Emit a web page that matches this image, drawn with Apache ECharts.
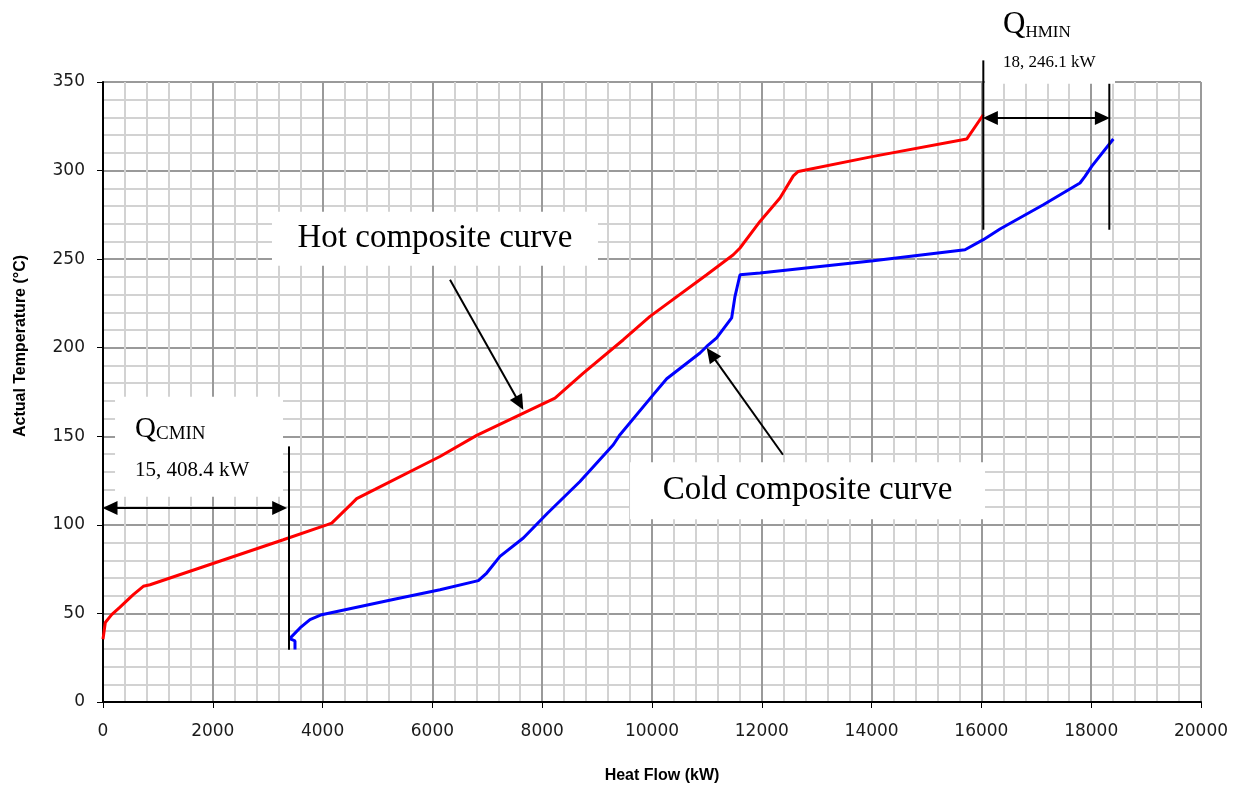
<!DOCTYPE html>
<html>
<head>
<meta charset="utf-8">
<script src="https://cdn.jsdelivr.net/npm/echarts@6/dist/echarts.min.js"></script>
<style>
  html, body { margin: 0; padding: 0; background: #fff; }
  #chart { width: 1239px; height: 797px; }
</style>
</head>
<body>
<div id="chart"></div>
<script>
// Hot composite curve: heat flow (kW) and temperature (°C)
const hotQ = [0, 42, 158, 310, 552, 734, 856, 3284, 4075, 4166, 4530, 4621, 4954, 6138, 6807,
  8233, 8749, 9478, 9964, 10996, 11481, 11603, 11967, 12331, 12574, 12665, 14031, 15732, 16035];
const hotT = [35.4, 44.9, 49.3, 53.6, 60.6, 65.3, 66.2, 91.6, 100, 101, 112, 114.8, 120, 138.6, 150.5,
  171.6, 185.7, 204.5, 217.7, 241.2, 252.5, 256.3, 271.3, 284.5, 297, 299.5, 308, 317.8, 331.5];

// Cold composite curve
const coldQ = [3497, 3497, 3400, 3588, 3770, 3983, 5349, 6138, 6837, 6989, 7231, 7656, 8100, 8688,
  9295, 9417, 10024, 10268, 10874, 10996, 11178, 11451, 11512, 11603, 11967, 13060, 14031, 15701,
  16035, 16339, 17128, 17796, 17887, 18009, 18403];
const coldT = [29.6, 34.5, 35.8, 41.8, 46.5, 49.3, 58.3, 63.4, 68.5, 72.8, 82.2, 92.6, 106.7, 124.5,
  145.2, 150.9, 173.5, 182.5, 197, 200.7, 205.5, 216.8, 229, 241.2, 242.2, 245.9, 249.1, 255.3,
  261, 267, 280.7, 293, 296.7, 302.4, 317.8];

// Minimum utility brackets (kW, °C)
const qcminLine = [[3388, 144.3], [3388, 29.5]];
const qhminLeftLine = [[16035, 362.2], [16035, 266.6]];
const qhminRightLine = [[18330, 349], [18330, 266.6]];
const qcminArrow = [[128, 109.5], [3218, 109.5]];
const qhminArrow = [[16163, 329.7], [18203, 329.7]];
// Pointers from the curve names to the curves
const hotPointer = [[6321, 238.4], [7588, 168.7]];
const coldPointer = [[12386, 139.6], [11077, 196.4]];

// Text anchors
const hotNameAt = [6047, 261.5];
const coldNameAt = [12833, 119.3];
const qcminAt = [219, 172.3];
const qhminAt = [16066, 396.5];
const qcminValue = '15, 408.4 kW';
const qhminValue = '18, 246.1 kW';

const zip = (xs, ys) => xs.map((x, i) => [x, ys[i]]);
const serif = 'Liberation Serif';

const chart = echarts.init(document.getElementById('chart'), null, { renderer: 'canvas' });

const axisCommon = {
  type: 'value',
  nameLocation: 'middle',
  nameMoveOverlap: false,
  axisLine: { show: true, onZero: false, lineStyle: { color: '#000', width: 2 } },
  axisTick: { show: true, length: 6, lineStyle: { color: '#000', width: 1 } },
  minorTick: { show: false, splitNumber: 5 },
  splitLine: { show: true, lineStyle: { color: '#9a9a9a', width: 2 } },
  minorSplitLine: { show: true, lineStyle: { color: '#d2d2d2', width: 2 } },
  axisLabel: { fontFamily: 'DejaVu Sans', fontSize: 17, color: '#1a1a1a', formatter: v => String(v) },
  nameTextStyle: { fontFamily: 'Liberation Sans', fontWeight: 'bold', fontSize: 16, color: '#000' }
};

const arrowLine = (pts, startSym, endSym) => [
  { coord: pts[0], symbol: startSym },
  { coord: pts[1], symbol: endSym }
];

chart.setOption({
  animation: false,
  backgroundColor: '#fff',
  grid: { left: 103, right: 38, top: 82, bottom: 95, containLabel: false, outerBoundsMode: 'none' },
  xAxis: Object.assign({}, axisCommon, {
    min: 0, max: 20000, interval: 2000,
    name: 'Heat Flow (kW)', nameGap: 66,
    axisLabel: Object.assign({}, axisCommon.axisLabel, { margin: 21 }),
    nameTextStyle: Object.assign({}, axisCommon.nameTextStyle, { padding: [0, 0, 0, 20] })
  }),
  yAxis: Object.assign({}, axisCommon, {
    min: 0, max: 350, interval: 50,
    name: 'Actual Temperature (°C)', nameGap: 74,
    axisLabel: Object.assign({}, axisCommon.axisLabel, { margin: 18 }),
    nameTextStyle: Object.assign({}, axisCommon.nameTextStyle, { padding: [0, 0, 0, 92] })
  }),
  series: [
    {
      name: 'Hot composite curve', type: 'line', data: zip(hotQ, hotT),
      showSymbol: false, symbol: 'none', z: 4,
      lineStyle: { color: '#ff0000', width: 3 }
    },
    {
      name: 'Cold composite curve', type: 'line', data: zip(coldQ, coldT),
      showSymbol: false, symbol: 'none', z: 4,
      lineStyle: { color: '#0000ff', width: 3 }
    },
    // White text boxes
    {
      type: 'scatter', symbolSize: 0, clip: false, z: 3, silent: true,
      itemStyle: { opacity: 1 },
      data: [
        {
          value: hotNameAt,
          label: {
            show: true, position: 'inside', formatter: 'Hot composite curve',
            fontFamily: serif, fontSize: 33, color: '#000',
            backgroundColor: '#fff', width: 326, height: 54, lineHeight: 54, align: 'center', verticalAlign: 'middle'
          }
        },
        {
          value: coldNameAt,
          label: {
            show: true, position: 'inside', formatter: 'Cold composite curve',
            fontFamily: serif, fontSize: 33, color: '#000',
            backgroundColor: '#fff', width: 355, height: 57, lineHeight: 57, align: 'center', verticalAlign: 'middle'
          }
        },
        {
          value: qcminAt,
          label: {
            show: true, position: [0, 0], align: 'left', verticalAlign: 'top',
            formatter: '{q|Q}{s|CMIN}\n{v|' + qcminValue + '}',
            backgroundColor: '#fff', width: 148, height: 93, padding: [7, 0, 0, 20],
            rich: {
              q: { fontFamily: serif, fontSize: 29, lineHeight: 40, verticalAlign: 'bottom', color: '#000' },
              s: { fontFamily: serif, fontSize: 19, lineHeight: 40, verticalAlign: 'bottom', color: '#000' },
              v: { fontFamily: serif, fontSize: 21, lineHeight: 53, color: '#000' }
            }
          }
        },
        {
          value: qhminAt,
          label: {
            show: true, position: [0, 0], align: 'left', verticalAlign: 'top',
            formatter: '{q|Q}{s|HMIN}\n{v|' + qhminValue + '}',
            backgroundColor: '#fff', width: 112, height: 81, padding: [3, 0, 0, 18],
            rich: {
              q: { fontFamily: serif, fontSize: 31, lineHeight: 38, verticalAlign: 'bottom', color: '#000' },
              s: { fontFamily: serif, fontSize: 17, lineHeight: 38, verticalAlign: 'bottom', color: '#000' },
              v: { fontFamily: serif, fontSize: 17, lineHeight: 44, color: '#000' }
            }
          }
        }
      ]
    },
    // Bracket lines
    {
      type: 'line', data: qcminLine, symbol: 'none', clip: false, z: 10, silent: true,
      lineStyle: { color: '#000', width: 2 }
    },
    {
      type: 'line', data: qhminLeftLine, symbol: 'none', clip: false, z: 10, silent: true,
      lineStyle: { color: '#000', width: 2 }
    },
    {
      type: 'line', data: qhminRightLine, symbol: 'none', clip: false, z: 10, silent: true,
      lineStyle: { color: '#000', width: 2 },
      markLine: {
        silent: true, animation: false,
        symbolSize: [14, 15],
        label: { show: false },
        emphasis: { disabled: true },
        lineStyle: { color: '#000', width: 2, type: 'solid' },
        itemStyle: { color: '#000' },
        data: [
          arrowLine(qcminArrow, 'triangle', 'triangle'),
          arrowLine(qhminArrow, 'triangle', 'triangle'),
          arrowLine(hotPointer, 'none', 'triangle'),
          arrowLine(coldPointer, 'none', 'triangle')
        ]
      }
    }
  ]
});
</script>
</body>
</html>
